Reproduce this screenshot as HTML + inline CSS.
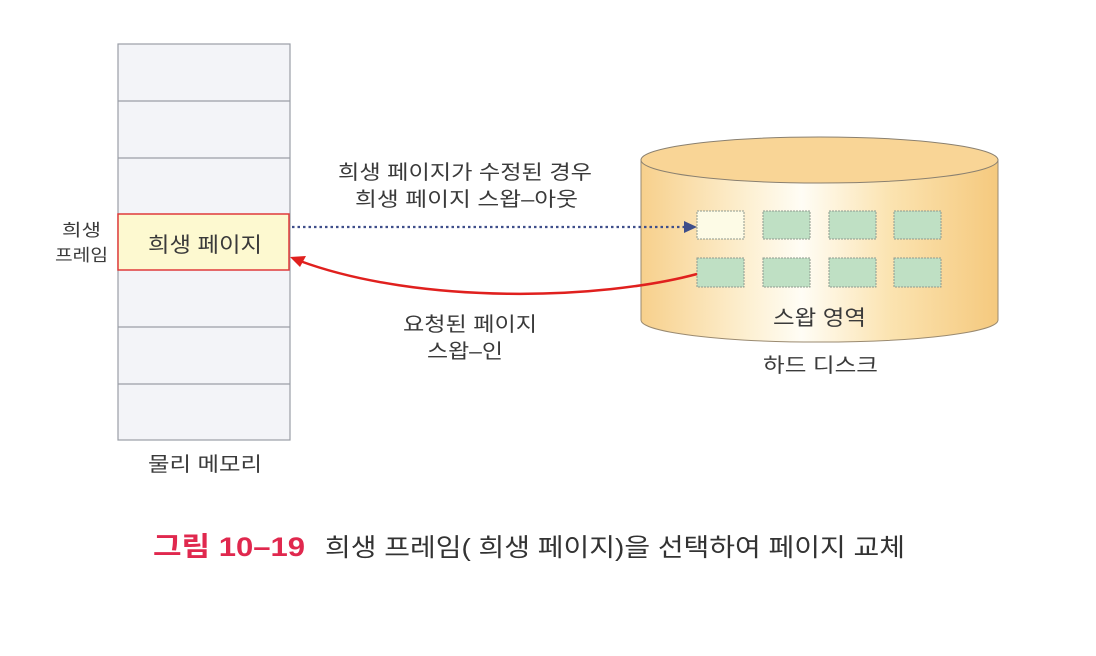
<!DOCTYPE html>
<html><head><meta charset="utf-8"><style>
html,body{margin:0;padding:0;background:#fff;}
svg{display:block;}
text{font-family:"Liberation Sans","Noto Sans CJK KR",sans-serif;fill:#3a3a3a;}
</style></head><body>
<svg width="1096" height="656" viewBox="0 0 1096 656" xmlns="http://www.w3.org/2000/svg">
<defs>
<linearGradient id="cyl" x1="0" x2="1" y1="0" y2="0">
<stop offset="0" stop-color="#f7d08c"/>
<stop offset="0.3" stop-color="#fdf0d2"/>
<stop offset="0.45" stop-color="#fffdf5"/>
<stop offset="0.7" stop-color="#fbe3b0"/>
<stop offset="1" stop-color="#f5c97e"/>
</linearGradient>
</defs>
<rect x="118" y="44" width="172" height="396" fill="#f3f4f8" stroke="#9a9ea6" stroke-width="1.2"/>
<g stroke="#9a9ea6" stroke-width="1.2">
<line x1="118" y1="101" x2="290" y2="101"/>
<line x1="118" y1="158" x2="290" y2="158"/>
<line x1="118" y1="327" x2="290" y2="327"/>
<line x1="118" y1="384" x2="290" y2="384"/>
</g>
<rect x="118" y="214" width="171" height="56" fill="#fdf9d0" stroke="#e03a3a" stroke-width="1.5"/>
<text x="148" y="252" font-size="21" textLength="114" lengthAdjust="spacingAndGlyphs">희생 페이지</text>
<text x="62" y="236" font-size="17" textLength="39" lengthAdjust="spacingAndGlyphs">희생</text>
<text x="55" y="261" font-size="17" textLength="53" lengthAdjust="spacingAndGlyphs">프레임</text>
<text x="148" y="471" font-size="20" textLength="114" lengthAdjust="spacingAndGlyphs">물리 메모리</text>
<path d="M641,160 L641,320 A178,22 0 0 0 998,320 L998,160 Z" fill="url(#cyl)" stroke="#9a8a70" stroke-width="1"/>
<ellipse cx="819.5" cy="160" rx="178.5" ry="23" fill="#f9d596" stroke="#8a8070" stroke-width="1"/>
<g stroke="#8f9a8f" stroke-width="1" stroke-dasharray="2,1">
<rect x="697" y="211" width="47" height="28" fill="#fdfbe6"/>
<rect x="763" y="211" width="47" height="28" fill="#bfe0c4"/>
<rect x="829" y="211" width="47" height="28" fill="#bfe0c4"/>
<rect x="894" y="211" width="47" height="28" fill="#bfe0c4"/>
<rect x="697" y="258" width="47" height="29" fill="#bfe0c4"/>
<rect x="763" y="258" width="47" height="29" fill="#bfe0c4"/>
<rect x="829" y="258" width="47" height="29" fill="#bfe0c4"/>
<rect x="894" y="258" width="47" height="29" fill="#bfe0c4"/>
</g>
<text x="773" y="325" font-size="21" textLength="93" lengthAdjust="spacingAndGlyphs">스왑 영역</text>
<text x="763" y="372" font-size="20" textLength="115" lengthAdjust="spacingAndGlyphs">하드 디스크</text>
<line x1="292" y1="227" x2="684" y2="227" stroke="#3e4e8a" stroke-width="2.2" stroke-dasharray="2.5,3"/>
<polygon points="684,221 697,227 684,233" fill="#3e4e8a"/>
<path d="M697,274 C600,300 420,305 300,261" fill="none" stroke="#e0201e" stroke-width="2.5"/>
<polygon points="290,257 306,256 300,267" fill="#e0201e"/>
<text x="338" y="179" font-size="20" textLength="254" lengthAdjust="spacingAndGlyphs">희생 페이지가 수정된 경우</text>
<text x="355" y="206" font-size="20" textLength="223" lengthAdjust="spacingAndGlyphs">희생 페이지 스왑–아웃</text>
<text x="403" y="331" font-size="20" textLength="134" lengthAdjust="spacingAndGlyphs">요청된 페이지</text>
<text x="427" y="358" font-size="20" textLength="76" lengthAdjust="spacingAndGlyphs">스왑–인</text>
<text x="153" y="556" font-size="27" font-weight="bold" style="fill:#e0284e" textLength="152" lengthAdjust="spacingAndGlyphs">그림 10–19</text>
<text x="325" y="556" font-size="25" style="fill:#333" textLength="580" lengthAdjust="spacingAndGlyphs">희생 프레임( 희생 페이지)을 선택하여 페이지 교체</text>
</svg>
</body></html>
